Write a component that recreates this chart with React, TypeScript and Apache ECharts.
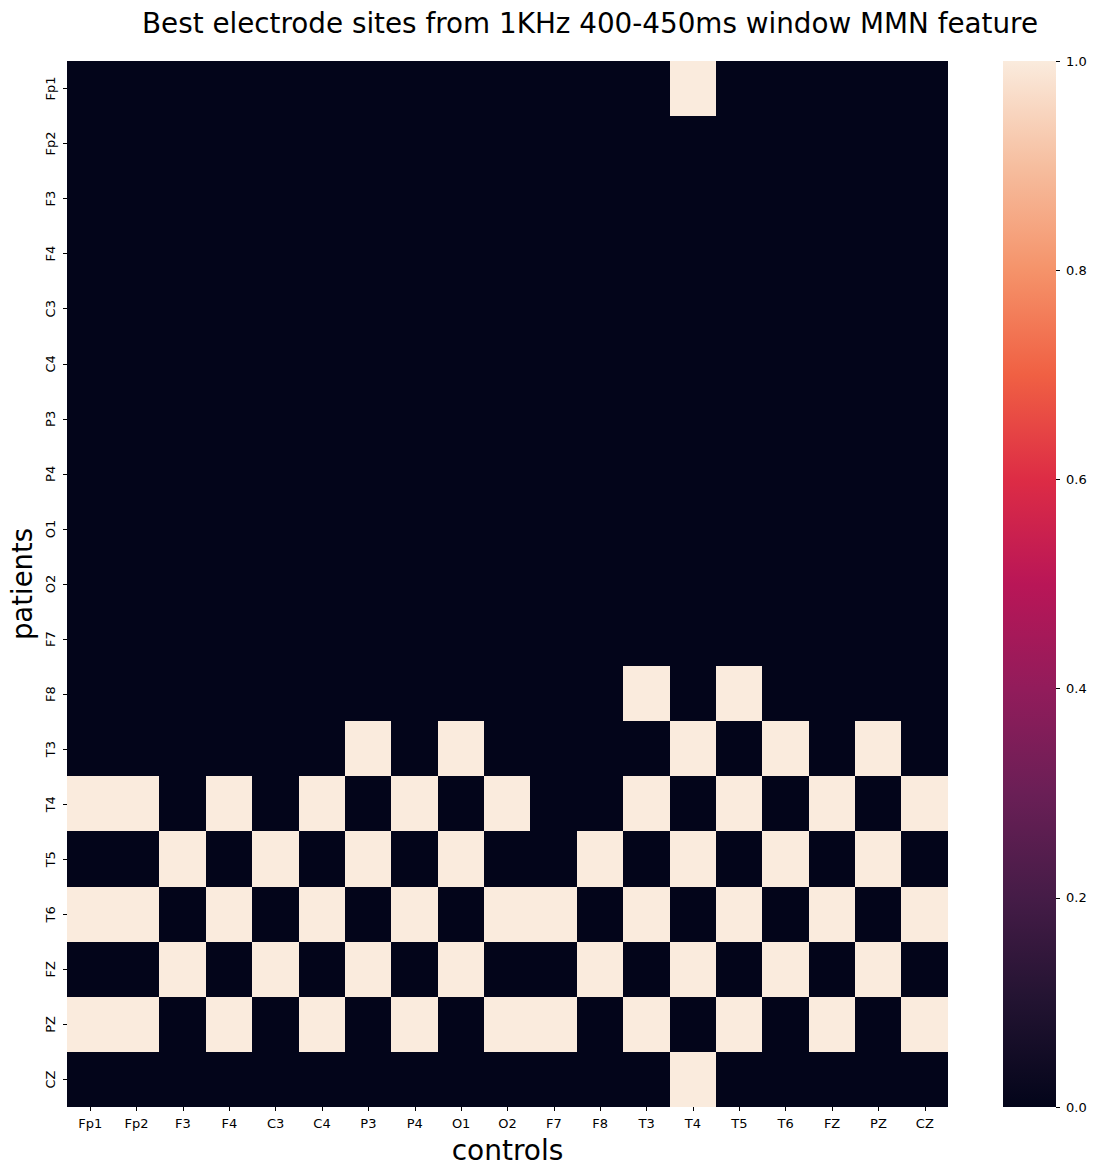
import React, { useEffect, useRef } from "react";
import * as echarts from "echarts";

const electrodes = ["Fp1", "Fp2", "F3", "F4", "C3", "C4", "P3", "P4", "O1", "O2", "F7", "F8", "T3", "T4", "T5", "T6", "FZ", "PZ", "CZ"];

// rows = patients (same electrode order), columns = controls
const rowFp1 = [0, 0, 0, 0, 0, 0, 0, 0, 0, 0, 0, 0, 0, 1, 0, 0, 0, 0, 0];
const rowFp2 = [0, 0, 0, 0, 0, 0, 0, 0, 0, 0, 0, 0, 0, 0, 0, 0, 0, 0, 0];
const rowF3 = [0, 0, 0, 0, 0, 0, 0, 0, 0, 0, 0, 0, 0, 0, 0, 0, 0, 0, 0];
const rowF4 = [0, 0, 0, 0, 0, 0, 0, 0, 0, 0, 0, 0, 0, 0, 0, 0, 0, 0, 0];
const rowC3 = [0, 0, 0, 0, 0, 0, 0, 0, 0, 0, 0, 0, 0, 0, 0, 0, 0, 0, 0];
const rowC4 = [0, 0, 0, 0, 0, 0, 0, 0, 0, 0, 0, 0, 0, 0, 0, 0, 0, 0, 0];
const rowP3 = [0, 0, 0, 0, 0, 0, 0, 0, 0, 0, 0, 0, 0, 0, 0, 0, 0, 0, 0];
const rowP4 = [0, 0, 0, 0, 0, 0, 0, 0, 0, 0, 0, 0, 0, 0, 0, 0, 0, 0, 0];
const rowO1 = [0, 0, 0, 0, 0, 0, 0, 0, 0, 0, 0, 0, 0, 0, 0, 0, 0, 0, 0];
const rowO2 = [0, 0, 0, 0, 0, 0, 0, 0, 0, 0, 0, 0, 0, 0, 0, 0, 0, 0, 0];
const rowF7 = [0, 0, 0, 0, 0, 0, 0, 0, 0, 0, 0, 0, 0, 0, 0, 0, 0, 0, 0];
const rowF8 = [0, 0, 0, 0, 0, 0, 0, 0, 0, 0, 0, 0, 1, 0, 1, 0, 0, 0, 0];
const rowT3 = [0, 0, 0, 0, 0, 0, 1, 0, 1, 0, 0, 0, 0, 1, 0, 1, 0, 1, 0];
const rowT4 = [1, 1, 0, 1, 0, 1, 0, 1, 0, 1, 0, 0, 1, 0, 1, 0, 1, 0, 1];
const rowT5 = [0, 0, 1, 0, 1, 0, 1, 0, 1, 0, 0, 1, 0, 1, 0, 1, 0, 1, 0];
const rowT6 = [1, 1, 0, 1, 0, 1, 0, 1, 0, 1, 1, 0, 1, 0, 1, 0, 1, 0, 1];
const rowFZ = [0, 0, 1, 0, 1, 0, 1, 0, 1, 0, 0, 1, 0, 1, 0, 1, 0, 1, 0];
const rowPZ = [1, 1, 0, 1, 0, 1, 0, 1, 0, 1, 1, 0, 1, 0, 1, 0, 1, 0, 1];
const rowCZ = [0, 0, 0, 0, 0, 0, 0, 0, 0, 0, 0, 0, 0, 1, 0, 0, 0, 0, 0];

const rows = [rowFp1, rowFp2, rowF3, rowF4, rowC3, rowC4, rowP3, rowP4, rowO1, rowO2, rowF7, rowF8, rowT3, rowT4, rowT5, rowT6, rowFZ, rowPZ, rowCZ];

const rocket = ["#03051a", "#221331", "#451c47", "#6a1f56", "#921c5b", "#b91657", "#dd2c45", "#f06043", "#f5936a", "#f6be9f", "#faebdd"];

const FONT = "DejaVu Sans";

export default function App() {
  const ref = useRef<HTMLDivElement>(null);
  useEffect(() => {
    if (!ref.current) return;
    const chart = echarts.init(ref.current, null, { renderer: "svg" });
    const data: number[][] = [];
    rows.forEach((r, yi) => r.forEach((v, xi) => data.push([xi, yi, v])));
    const gradStops = rocket.map((c, i) => ({ offset: i / (rocket.length - 1), color: c }));
    chart.setOption({
      animation: false,
      textStyle: { fontFamily: FONT },
      title: {
        text: "Best electrode sites from 1KHz 400-450ms window MMN feature",
        left: 577,
        top: -4,
        textAlign: "center",
        textStyle: { fontFamily: FONT, fontSize: 27.8, fontWeight: "normal", color: "#000" },
      },
      grid: [
        { left: 59, top: 53, width: 881, height: 1046, containLabel: false, outerBoundsMode: "none" },
        { left: 995, top: 53, width: 53, height: 1046, containLabel: false, outerBoundsMode: "none" },
      ],
      xAxis: [
        {
          type: "category",
          gridIndex: 0,
          data: electrodes,
          name: "controls",
          nameLocation: "middle",
          nameGap: 29,
          nameTextStyle: { fontFamily: FONT, fontSize: 28, color: "#000" },
          axisLine: { show: false },
          axisTick: { show: true, alignWithLabel: true, length: 4, lineStyle: { color: "#000" } },
          axisLabel: { fontFamily: FONT, fontSize: 13, color: "#000", margin: 10, interval: 0 },
          splitLine: { show: false },
        },
        {
          type: "category",
          gridIndex: 1,
          data: [""],
          show: false,
        },
      ],
      yAxis: [
        {
          type: "category",
          gridIndex: 0,
          data: electrodes,
          inverse: true,
          name: "patients",
          nameLocation: "middle",
          nameGap: 19,
          nameRotate: 90,
          nameTextStyle: { fontFamily: FONT, fontSize: 27.5, color: "#000" },
          axisLine: { show: false },
          axisTick: { show: true, alignWithLabel: true, length: 4, lineStyle: { color: "#000" } },
          axisLabel: { fontFamily: FONT, fontSize: 13, color: "#000", margin: 10, rotate: 90, interval: 0 },
          splitLine: { show: false },
        },
        {
          type: "value",
          gridIndex: 1,
          position: "right",
          min: 0,
          max: 1,
          interval: 0.2,
          axisLine: { show: false },
          axisTick: { show: true, length: 4, lineStyle: { color: "#000" } },
          axisLabel: { fontFamily: FONT, fontSize: 13, color: "#000", margin: 10, formatter: (v: number) => v.toFixed(1) },
          splitLine: { show: false },
        },
      ],
      visualMap: {
        show: false,
        type: "continuous",
        seriesIndex: 0,
        min: 0,
        max: 1,
        dimension: 2,
        inRange: { color: rocket },
      },
      series: [
        {
          type: "heatmap",
          xAxisIndex: 0,
          yAxisIndex: 0,
          data,
          itemStyle: { borderWidth: 0 },
          emphasis: { disabled: true },
        },
        {
          type: "bar",
          xAxisIndex: 1,
          yAxisIndex: 1,
          data: [1],
          barWidth: "100%",
          silent: true,
          itemStyle: {
            color: new echarts.graphic.LinearGradient(0, 1, 0, 0, gradStops),
          },
        },
      ],
    });
    return () => chart.dispose();
  }, []);
  return (
    <>
      <style>{`#heat-chart path { shape-rendering: crispEdges; }`}</style>
      <div id="heat-chart" ref={ref} style={{ width: 1081, height: 1159 }} />
    </>
  );
}
